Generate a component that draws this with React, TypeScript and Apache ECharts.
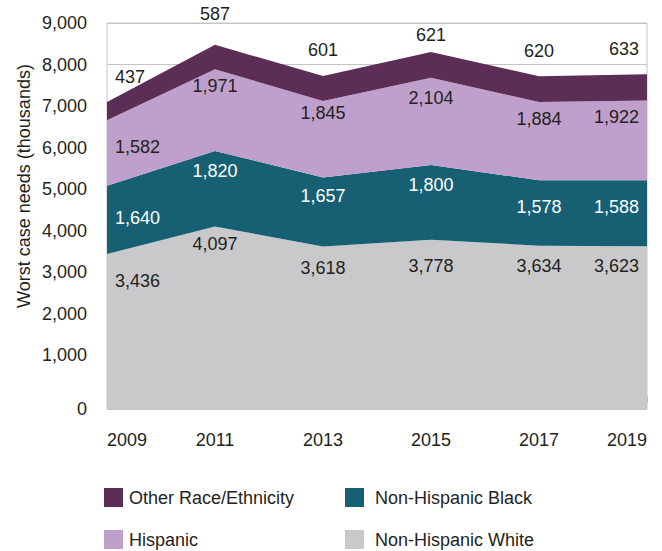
import React, { useEffect, useRef } from "react";
import * as echarts from "echarts";

const years = ["2009", "2011", "2013", "2015", "2017", "2019"];
const white = [3436, 4097, 3618, 3778, 3634, 3623];
const black = [1640, 1820, 1657, 1800, 1578, 1588];
const hispanic = [1582, 1971, 1845, 2104, 1884, 1922];
const other = [437, 587, 601, 621, 620, 633];
const yTicks = [-300, 1000, 2000, 3000, 4000, 5000, 6000, 7000, 8000, 9000];

// label vertical nudges (px), styling only
const nudgeWhite = [6, -4, 1, 5, -1, -1];
const nudgeBlack = [9, -3, -5, -3, 4, 4];
const nudgeHispanic = [11, 1, -4, 4, 1, 1];
const nudgeOther = [0, -6, -1, 8, 0, 0];

const FONT = "'Liberation Sans', Arial, Helvetica, sans-serif";
const TXT = "#231f20";

function makeData(vals: number[], nudge: number[]) {
  const n = vals.length;
  return vals.map((v, i) => {
    const dx = i === 0 ? 8 : i === n - 1 ? -8 : 0;
    const label: any = { offset: [dx, nudge[i]] };
    if (i === 0) label.align = "left";
    if (i === n - 1) label.align = "right";
    return { value: v, label };
  });
}

export default function App() {
  const ref = useRef<HTMLDivElement>(null);
  useEffect(() => {
    document.body.style.margin = "0";
    if (!ref.current) return;
    const chart = echarts.init(ref.current, null, { renderer: "svg" });
    const mk = (
      name: string,
      vals: number[],
      nudge: number[],
      color: string,
      pos: string,
      dist: number,
      lc: string
    ) => ({
      name,
      type: "line",
      stack: "total",
      data: makeData(vals, nudge),
      symbol: "circle",
      symbolSize: 0,
      showSymbol: true,
      lineStyle: { width: 0 },
      areaStyle: { color, opacity: 1, origin: "start" },
      itemStyle: { color },
      label: {
        show: true,
        position: pos,
        distance: dist,
        color: lc,
        fontSize: 18,
        fontFamily: FONT,
        formatter: (p: any) => Number(p.value).toLocaleString("en-US"),
      },
    });
    chart.setOption({
      animation: false,
      grid: {
        left: 107,
        right: 15,
        top: 23,
        bottom: 142,
        show: true,
        borderColor: "#c4c4c4",
        borderWidth: 1,
        backgroundColor: "transparent",
      },
      xAxis: {
        type: "category",
        data: years,
        boundaryGap: false,
        axisLine: { lineStyle: { color: "#bdbdbd" } },
        axisTick: { show: true, length: 6, lineStyle: { color: "#bdbdbd" } },
        axisLabel: {
          color: TXT,
          fontSize: 18,
          fontFamily: FONT,
          margin: 22,
          alignMinLabel: "left",
          alignMaxLabel: "right",
        },
        splitLine: { show: false },
      },
      yAxis: {
        type: "value",
        min: -300,
        max: 9000,
        axisLine: { show: false },
        axisTick: { show: false, customValues: yTicks },
        axisLabel: {
          customValues: yTicks,
          color: TXT,
          fontSize: 18,
          fontFamily: FONT,
          margin: 20,
          formatter: (v: number) => (v < 0 ? "0" : v.toLocaleString("en-US")),
        },
        splitLine: { show: true, lineStyle: { color: "#c4c4c4", width: 1 } },
      },
      legend: [
        {
          left: 104,
          top: 488,
          orient: "vertical",
          padding: 0,
          itemWidth: 19,
          itemHeight: 19,
          itemGap: 23,
          icon: "rect",
          data: ["Other Race/Ethnicity", "Hispanic"],
          textStyle: { color: TXT, fontSize: 18, fontFamily: FONT, padding: [0, 0, 0, 1] },
        },
        {
          left: 345,
          top: 488,
          orient: "vertical",
          padding: 0,
          itemWidth: 19,
          itemHeight: 19,
          itemGap: 23,
          icon: "rect",
          data: ["Non-Hispanic Black", "Non-Hispanic White"],
          textStyle: { color: TXT, fontSize: 18, fontFamily: FONT, padding: [0, 0, 0, 6] },
        },
      ],
      graphic: [
        {
          type: "text",
          x: 24,
          y: 186,
          rotation: Math.PI / 2,
          style: {
            text: "Worst case needs (thousands)",
            fill: TXT,
            fontSize: 18,
            fontFamily: FONT,
            align: "center",
            verticalAlign: "middle",
          },
        },
      ],
      series: [
        mk("Non-Hispanic White", white, nudgeWhite, "#c9c9cb", "bottom", 12, TXT),
        mk("Non-Hispanic Black", black, nudgeBlack, "#175f72", "bottom", 14, "#ffffff"),
        mk("Hispanic", hispanic, nudgeHispanic, "#bf9fcb", "bottom", 7, TXT),
        mk("Other Race/Ethnicity", other, nudgeOther, "#5c2d55", "top", 16, TXT),
      ],
    });
    return () => chart.dispose();
  }, []);
  return <div ref={ref} style={{ width: 662, height: 551 }} />;
}
